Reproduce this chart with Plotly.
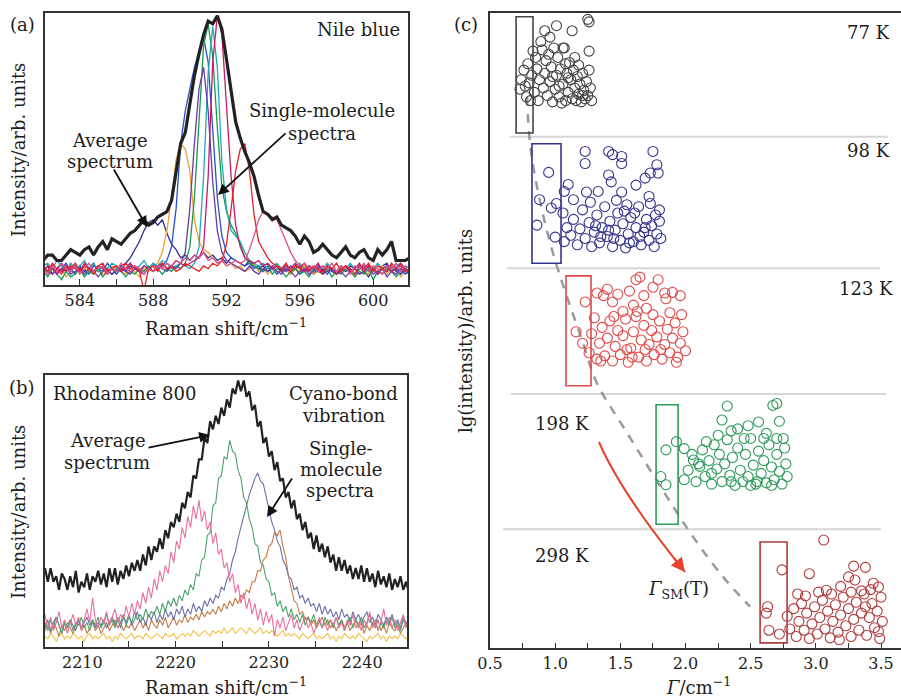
import plotly.graph_objects as go

# ------------------------------------------------------------------ data
# (a) Nile blue, 0.25 cm^-1 sampling from 582 cm^-1, intensity in arb. units (0-100)
A_SHIFT_START, A_SHIFT_STEP = 582.0, 0.25
A_AVERAGE = [9, 11, 11, 9, 9, 11, 13, 12, 11, 13, 14, 11, 14, 16, 13, 17, 16, 15, 17, 19,
             20, 22, 24, 22, 23, 25, 26, 27, 31, 42, 52, 56, 66, 77, 85, 92, 97, 96, 99, 94,
             83, 72, 60, 54, 49, 45, 40, 33, 27, 26, 24, 25, 22, 21, 20, 18, 15, 18, 16, 12,
             13, 15, 13, 11, 10, 12, 14, 11, 10, 12, 13, 10, 9, 13, 11, 13, 16, 9, 9, 9, 10]
A_NAVY = [5, 7, 4, 6, 8, 5, 6, 4, 7, 5, 6, 8, 5, 7, 4, 6, 5, 7,
          8, 10, 13, 16, 20, 23, 24, 22, 24, 19, 15, 13, 10, 11, 9, 11, 10, 12, 10, 11, 9, 10,
          8, 10, 9, 8, 7, 9, 7, 6, 7, 5, 6, 7, 5, 6, 4, 6, 7, 5, 6, 4,
          6, 5, 7, 5, 4, 6, 5, 7, 6, 4, 5, 3, 6, 5, 7, 8, 5, 6, 4, 6, 5]
A_ORANGE = [6, 4, 7, 5, 6, 3, 5, 7, 4, 6, 5, 7, 6, 4, 5, 7, 6, 5, 4, 6, 5, 3, 6, 5, 7, 8,
            12, 20, 32, 46, 52, 50, 42, 24, 16, 13, 12, 10, 8,
            9, 7, 8, 6, 7, 5, 6, 8, 5, 6, 4, 6, 7, 5, 6, 4, 6, 5, 7, 6, 4, 5, 7, 5, 6, 4,
            5, 7, 5, 3, 6, 5, 4, 6, 5, 7, 4, 6, 5, 3, 5, 6]
A_BLUE = [6, 5, 7, 4, 6, 8, 5, 7, 6, 5, 4, 7, 6, 5, 8, 6, 4, 6, 5, 7, 6, 5, 7, 6, 8, 6, 7, 9,
          14, 28, 52, 64, 72, 80, 86, 91, 82, 58, 32, 18, 12,
          10, 9, 8, 7, 8, 6, 7, 5, 7, 6, 4, 6, 5, 7, 6, 4, 6, 5, 7, 5, 6, 4, 6, 5, 7, 5,
          6, 4, 6, 7, 5, 6, 4, 6, 5, 7, 5, 6, 4, 5]
A_GREEN = [5, 3, 6, 4, 2, 5, 3, 4, 6, 3, 5, 4, 6, 3, 5, 4, 6, 5, 3, 5, 4, 6, 5, 7, 5, 6, 4, 6, 5, 7, 6,
           8, 14, 32, 62, 88, 96, 84, 58, 36, 27, 22, 19, 15, 10,
           8, 7, 6, 5, 7, 4, 6, 5, 3, 5, 6, 4, 5, 3, 6, 5, 4, 6, 3, 5, 4, 6, 5, 3, 5, 4,
           6, 2, 5, 4, 6, 5, 3, 5, 6, 4]
A_TEAL = [7, 8, 6, 9, 7, 5, 8, 6, 7, 9, 6, 8, 5, 7, 6, 8, 7, 5, 6, 8, 6, 7, 9, 6, 8, 7, 9, 8, 6, 7,
          8, 7, 6, 8,
          14, 40, 78, 95, 80, 45, 28, 20, 18, 16, 12,
          9, 8, 7, 8, 6, 7, 8, 6, 7, 5, 7, 8, 6, 7, 5, 7, 6, 8, 6, 5, 7, 6, 8, 6, 7, 5,
          7, 6, 8, 6, 7, 5, 7, 8, 6, 7]
A_PURPLE = [6, 5, 4, 6, 5, 7, 4, 5, 6, 4, 6, 5, 3, 5, 6, 4, 5, 7, 5, 4, 6, 5, 4, 6, 5, 7, 6, 5, 7, 6, 8,
            12, 28, 52, 72, 80, 64, 38, 20, 12, 9, 8, 7, 6, 5,
            7, 5, 4, 6, 5, 7, 5, 4, 6, 5, 3, 5, 6, 4, 5, 7, 4, 5, 6, 4, 5, 3, 5, 6, 4, 5,
            7, 4, 5, 6, 3, 5, 4, 6, 5, 4]
A_MAGENTA = [5, 7, 6, 4, 6, 5, 7, 6, 5, 8, 6, 5, 7, 6, 4, 6, 7, 5, 6, 8, 6, 5, 7, 6, 5, 7, 8, 6, 7, 9,
             8, 7, 8, 9, 10,
             14, 40, 82, 99, 92, 66, 40, 22, 14, 10,
             9, 8, 9, 7, 8, 6, 7, 5, 7, 6, 8, 6, 5, 7, 6, 8, 5, 7, 6, 4, 6, 7, 5, 6, 8, 5,
             7, 6, 4, 6, 7, 5, 6, 8, 6, 5]
A_RED = [7, 5, 8, 6, 4, 7, 6, 8, 5, 7, 6, 4, 7, 8, 5, 6, 7, 5, 8, 6, 7, 5, -2, 6, 7, 5, 8, 6, 7, 5,
         6, 8, 7, 6, 5, 7, 6, 8, 7,
         9, 15, 28, 42, 50, 52, 42, 26, 16, 13, 10, 8, 7,
         6, 8, 5, 7, 6, 8, 5, 7, 6, 4, 7, 6, 8, 5, 7, 6, 4, 7, 6, 8, 5, 7, 6, 5, 8, 6, 7, 5, 6]
A_PINK = [6, 4, 7, 5, 8, 6, 5, 7, 4, 6, 8, 5, 6, 7, 4, 6, 5, 8, 6, 5, 7, 6, 4, 6, 5, 7, 6, 8, 7, 9,
          8, 10, 9, 11, 10, 12, 9, 10, 8, 9, 7, 8, 9, 8,
          9, 13, 18, 24, 27, 26, 25, 24, 20, 16, 12, 9, 7,
          8, 6, 7, 5, 7, 6, 8, 5, 7, 6, 4, 7, 6, 8, 5, 7, 6, 4, 7, 6, 8, 5, 7, 6]

# (b) Rhodamine 800, 0.3 cm^-1 sampling from 2206 cm^-1
B_SHIFT_START, B_SHIFT_STEP = 2206.0, 0.3
B_AVERAGE = [29, 24, 29, 24, 26, 21, 27, 25, 21, 26, 22, 28, 20, 24, 22, 27, 21, 26, 24, 28,
             23, 27, 22, 29, 24, 29, 23, 28, 25, 30, 26, 31, 28, 32, 28, 34, 30, 37, 32, 37,
             35, 40, 36, 43, 40, 46, 44, 49, 46, 53, 51, 57, 55, 63, 62, 69, 69, 77, 75, 83,
             80, 85, 82, 88, 85, 91, 88, 95, 93, 98, 94, 98, 92, 94, 87, 89, 81, 83, 75, 77,
             70, 72, 65, 68, 61, 62, 55, 57, 51, 54, 47, 49, 43, 46, 40, 42, 36, 41, 35, 38,
             33, 37, 31, 34, 28, 33, 28, 32, 27, 30, 25, 29, 25, 30, 24, 29, 24, 27, 22, 28,
             23, 26, 22, 27, 21, 25, 22, 26, 21, 24, 20]
B_PINK = [12, 7, 11, 6, 9, 13, 7, 10, 5, 9, 12, 8, 11, 7, 10, 14, 9, 18, 10, 7,
          11, 9, 13, 8, 11, 14, 9, 12, 10, 15, 11, 16, 12, 17, 14, 20, 16, 22, 18, 25,
          21, 28, 24, 30, 27, 35, 31, 39, 36, 44, 40, 48, 44, 52, 47, 54, 46, 50, 43, 46,
          38, 42, 34, 36, 29, 31, 24, 27, 20, 23, 16, 20, 14, 18, 12, 16, 10, 14, 8, 13,
          9, 12, 4, 10, 7, 11, 6, 9, 12, 7, 10, 6, 9, 11, 7, 9, 5, 8, 11, 7,
          9, 6, 10, 8, 11, 7, 9, 6, 10, 8, 12, 7, 9, 6, 10, 8, 13, 7, 10, 6,
          9, 14, 8, 11, 7, 10, 6, 9, 12, 7, 9]
B_GREEN = [9, 6, 10, 7, 11, 8, 5, 9, 7, 10, 6, 9, 8, 11, 7, 9, 6, 10, 8, 11,
           7, 9, 12, 8, 10, 7, 11, 9, 12, 8, 11, 9, 13, 10, 12, 10, 14, 11, 13, 12,
           15, 12, 16, 13, 17, 15, 18, 15, 19, 17, 21, 19, 23, 21, 27, 26, 32, 33, 41, 42,
           52, 53, 62, 63, 70, 69, 76, 72, 71, 65, 62, 55, 53, 47, 44, 38, 37, 31, 30, 25,
           24, 19, 20, 15, 17, 13, 15, 11, 14, 10, 12, 9, 12, 8, 11, 9, 12, 8, 10, 7,
           11, 8, 10, 7, 11, 8, 10, 6, 9, 11, 7, 10, 8, 11, 7, 9, 12, 8, 10, 6,
           9, 7, 10, 8, 11, 7, 9, 6, 10, 8, 7]
B_SLATE = [7, 10, 6, 9, 11, 8, 5, 9, 7, 10, 8, 6, 10, 7, 9, 11, 8, 10, 7, 9,
           8, 10, 7, 9, 11, 8, 10, 7, 11, 9, 12, 8, 10, 13, 9, 11, 8, 12, 10, 13,
           9, 12, 10, 14, 11, 13, 10, 14, 12, 15, 11, 14, 12, 16, 13, 15, 13, 17, 15, 18,
           16, 19, 18, 22, 21, 25, 27, 32, 35, 40, 44, 49, 52, 56, 59, 62, 64, 61, 60, 55,
           50, 46, 43, 39, 37, 32, 30, 26, 25, 21, 22, 18, 19, 16, 18, 15, 16, 13, 16, 12,
           15, 12, 14, 11, 13, 10, 14, 11, 12, 9, 13, 10, 12, 9, 11, 13, 9, 11, 8, 12,
           10, 8, 11, 9, 12, 8, 10, 7, 11, 9, 8]
B_BROWN = [6, 8, 5, 9, 7, 4, 8, 6, 9, 7, 5, 8, 10, 6, 8, 5, 7, 9, 6, 8,
           5, 7, 9, 6, 8, 10, 7, 9, 6, 8, 7, 9, 6, 8, 10, 7, 9, 6, 10, 8,
           7, 10, 8, 11, 7, 9, 11, 8, 10, 9, 12, 9, 11, 10, 12, 10, 13, 11, 13, 12,
           14, 12, 15, 13, 16, 14, 17, 15, 18, 16, 19, 18, 21, 20, 24, 24, 28, 28, 32, 33,
           37, 38, 42, 41, 43, 37, 33, 26, 22, 17, 16, 12, 13, 10, 11, 8, 10, 7, 9, 11,
           8, 10, 7, 9, 6, 8, 10, 7, 9, 6, 8, 10, 7, 9, 5, 8, 6, 9, 7, 10,
           6, 8, 5, 9, 7, 6, 8, 5, 7, 9, 6]
B_YELLOW = [4, 3, 5, 4, 2, 4, 5, 3, 4, 3, 5, 4, 3, 4, 2, 4, 5, 3, 4, 3,
            4, 5, 3, 4, 2, 4, 3, 5, 4, 3, 4, 5, 3, 4, 4, 3, 5, 4, 3, 4,
            5, 4, 3, 5, 4, 4, 5, 3, 4, 5, 4, 5, 4, 6, 5, 4, 5, 6, 5, 4,
            6, 5, 6, 5, 7, 5, 6, 7, 5, 6, 7, 6, 5, 7, 6, 5, 6, 7, 5, 6,
            5, 6, 5, 4, 5, 6, 4, 5, 4, 5, 4, 3, 5, 4, 3, 4, 5, 3, 4, 3,
            4, 5, 3, 4, 2, 4, 3, 5, 4, 3, 4, 3, 5, 4, 3, 2, 4, 3, 4, 5,
            3, 4, 2, 4, 3, 4, 3, 5, 4, 3, 4]

# (c) single-molecule linewidth (Gamma, cm^-1) vs lg(intensity) (arb. units, 0-10 scale)
C_77K = [(0.74, 8.95), (0.76, 9.10), (0.73, 8.80), (0.78, 8.68), (0.80, 8.90), (0.79, 9.20), (0.82, 9.02),
         (0.84, 8.75), (0.85, 9.30), (0.87, 8.62), (0.88, 8.95), (0.86, 9.12), (0.90, 9.42), (0.91, 8.82),
         (0.92, 9.05), (0.93, 9.25), (0.94, 8.70), (0.96, 8.92), (0.97, 9.15), (0.98, 8.60), (0.99, 9.45),
         (1.00, 8.80), (1.01, 9.02), (1.02, 9.30), (1.03, 8.68), (1.04, 9.12), (1.06, 8.88), (1.07, 9.45),
         (1.08, 8.62), (1.09, 9.05), (1.10, 8.75), (1.11, 9.22), (1.12, 8.95), (1.13, 8.65), (1.14, 9.10),
         (1.15, 8.82), (1.16, 8.62), (1.17, 9.00), (1.18, 8.72), (1.19, 8.88), (1.20, 8.60), (1.21, 9.05),
         (1.22, 8.78), (1.23, 8.65), (1.24, 8.92), (1.25, 8.70), (1.26, 9.10), (1.27, 8.82), (1.28, 8.62),
         (1.18, 9.18), (1.05, 8.58), (0.95, 9.35), (0.89, 9.55), (0.83, 9.40), (0.92, 9.72), (0.96, 9.62),
         (1.01, 9.80), (1.13, 9.72), (1.25, 9.90), (1.26, 9.86), (1.26, 9.40), (1.06, 9.45), (0.77, 8.85),
         (0.81, 8.62), (1.10, 8.98), (1.15, 9.30), (1.21, 8.70), (1.03, 8.85), (0.98, 9.00), (1.08, 9.20)]
C_98K = [(0.95, 7.49), (0.88, 7.06), (0.97, 6.93), (1.01, 7.00), (0.86, 6.66), (1.00, 6.47), (1.23, 7.82),
         (1.23, 7.63), (1.41, 7.82), (1.44, 7.77), (1.51, 7.74), (1.51, 7.63), (1.75, 7.82), (1.78, 7.61),
         (1.79, 7.48), (1.73, 7.48), (1.69, 7.40), (1.62, 7.29), (1.41, 7.45), (1.43, 7.34), (1.51, 7.18),
         (1.33, 7.19), (1.24, 7.18), (1.10, 7.30), (1.07, 7.19), (1.14, 7.06), (1.72, 7.11), (1.73, 7.00),
         (1.80, 6.90), (1.06, 6.85), (1.09, 6.62), (1.07, 6.40), (1.12, 6.50), (1.14, 6.75), (1.17, 6.35),
         (1.19, 6.60), (1.21, 6.90), (1.23, 6.45), (1.26, 6.70), (1.28, 6.32), (1.30, 6.55), (1.32, 6.82),
         (1.34, 6.38), (1.36, 6.62), (1.38, 6.95), (1.40, 6.48), (1.42, 6.72), (1.44, 6.32), (1.46, 6.58),
         (1.48, 6.85), (1.50, 6.42), (1.52, 6.68), (1.54, 6.30), (1.56, 6.52), (1.58, 6.78), (1.60, 6.40),
         (1.62, 6.62), (1.64, 6.95), (1.66, 6.35), (1.68, 6.55), (1.70, 6.75), (1.72, 6.42), (1.74, 6.65),
         (1.76, 6.32), (1.78, 6.52), (1.80, 6.72), (1.81, 6.45), (1.47, 7.05), (1.55, 6.98), (1.27, 7.02),
         (1.35, 6.48), (1.45, 6.45), (1.57, 6.38), (1.61, 6.85), (1.69, 6.62), (1.77, 6.82), (1.31, 6.65),
         (1.41, 6.58), (1.53, 6.88), (1.65, 6.48)]
C_123K = [(1.65, 5.84), (1.62, 5.80), (1.79, 5.80), (1.84, 5.59), (1.85, 5.50), (1.32, 5.59), (1.37, 5.55),
          (1.48, 5.57), (1.44, 5.45), (1.57, 5.62), (1.68, 5.55), (1.23, 5.45), (1.16, 4.98), (1.21, 4.80),
          (1.40, 5.65), (1.75, 5.68), (1.70, 5.35), (1.60, 5.40), (1.52, 5.30), (1.90, 5.60), (1.96, 5.55),
          (1.26, 4.65), (1.28, 4.95), (1.30, 5.20), (1.32, 4.55), (1.34, 4.80), (1.36, 5.05), (1.38, 4.60),
          (1.40, 4.88), (1.42, 5.15), (1.44, 4.52), (1.46, 4.75), (1.48, 5.00), (1.50, 4.62), (1.52, 4.92),
          (1.54, 5.18), (1.56, 4.50), (1.58, 4.72), (1.60, 4.98), (1.62, 5.22), (1.64, 4.58), (1.66, 4.85),
          (1.68, 5.08), (1.70, 4.52), (1.72, 4.78), (1.74, 5.00), (1.76, 4.62), (1.78, 4.90), (1.80, 5.15),
          (1.82, 4.55), (1.84, 4.78), (1.86, 5.02), (1.88, 4.65), (1.90, 4.88), (1.92, 5.12), (1.94, 4.58),
          (1.96, 4.80), (1.98, 4.98), (2.00, 4.68), (1.63, 5.30), (1.75, 5.25), (1.88, 5.28), (1.45, 5.22),
          (1.55, 4.70), (1.69, 4.70), (1.81, 4.70), (1.97, 5.25), (1.35, 4.52), (1.93, 4.50), (1.59, 4.58)]
C_198K = [(2.32, 3.81), (2.67, 3.82), (2.70, 3.85), (2.28, 3.59), (2.56, 3.56), (2.72, 3.57), (2.48, 3.50),
          (1.85, 3.12), (1.93, 3.25), (1.81, 2.70), (1.85, 2.57), (1.99, 2.65), (1.99, 3.14), (2.06, 2.96),
          (2.11, 2.86), (2.40, 3.45), (2.35, 3.42), (2.62, 3.38), (2.75, 3.30), (2.02, 2.80), (2.05, 3.05),
          (2.08, 2.62), (2.10, 2.90), (2.13, 3.12), (2.15, 2.70), (2.18, 2.95), (2.20, 2.58), (2.22, 3.20),
          (2.24, 2.82), (2.26, 3.05), (2.28, 2.62), (2.30, 2.90), (2.32, 3.28), (2.34, 2.72), (2.36, 3.00),
          (2.38, 2.56), (2.40, 3.15), (2.42, 2.80), (2.44, 2.62), (2.46, 3.05), (2.48, 2.70), (2.50, 3.30),
          (2.52, 2.88), (2.54, 2.58), (2.56, 3.10), (2.58, 2.75), (2.60, 2.95), (2.62, 2.60), (2.64, 3.20),
          (2.66, 2.85), (2.68, 2.65), (2.70, 3.05), (2.72, 2.78), (2.74, 2.58), (2.76, 3.15), (2.77, 2.90),
          (2.78, 2.70), (2.25, 3.35), (2.45, 3.30), (2.60, 3.30), (2.70, 3.30), (2.16, 3.25), (2.35, 2.62),
          (2.55, 2.62), (2.50, 2.56), (2.66, 2.56), (2.20, 2.75)]
C_298K = [(3.06, 1.70), (3.29, 1.29), (3.38, 1.27), (2.74, 1.23), (2.95, 1.17), (3.08, 0.91), (3.19, 0.97),
          (3.30, 1.07), (3.44, 1.02), (3.48, 0.96), (2.63, 0.65), (2.62, 0.55), (2.64, 0.28), (3.25, 1.12),
          (3.35, 0.90), (2.72, 0.22), (2.78, 0.50), (2.80, 0.30), (2.83, 0.62), (2.85, 0.18), (2.87, 0.42),
          (2.89, 0.70), (2.91, 0.28), (2.93, 0.55), (2.95, 0.15), (2.97, 0.38), (2.99, 0.65), (3.01, 0.22),
          (3.03, 0.48), (3.05, 0.75), (3.07, 0.30), (3.09, 0.58), (3.11, 0.16), (3.13, 0.42), (3.15, 0.68),
          (3.17, 0.25), (3.19, 0.52), (3.21, 0.80), (3.23, 0.35), (3.25, 0.62), (3.27, 0.18), (3.29, 0.45),
          (3.31, 0.72), (3.33, 0.28), (3.35, 0.55), (3.37, 0.85), (3.39, 0.20), (3.41, 0.48), (3.43, 0.70),
          (3.45, 0.32), (3.47, 0.58), (3.49, 0.15), (3.50, 0.80), (3.51, 0.42), (3.48, 0.26), (3.12, 0.85),
          (2.92, 0.82), (3.02, 0.88), (3.42, 0.92), (3.27, 0.88), (2.86, 0.85), (3.18, 0.13), (3.38, 0.65)]
TEMPS = ["77 K", "98 K", "123 K", "198 K", "298 K"]
# Gamma_SM(T) windows (Gamma range, lg range)
BOX_G = [(0.70, 0.83), (0.822, 1.045), (1.083, 1.275), (1.774, 1.943), (2.572, 2.779)]
BOX_LG = [(8.11, 9.94), (6.06, 7.94), (4.13, 5.86), (1.95, 3.83), (0.08, 1.67)]
SEP_G = [(0.653, 3.554), (0.63, 3.49), (0.66, 3.54), (0.60, 3.50)]
SEP_LG = [8.05, 5.98, 4.0, 1.87]
FIT_G = [0.784, 0.807, 0.861, 0.983, 1.214, 1.321, 1.551, 1.858, 2.058, 2.288, 2.495]
FIT_LG = [8.68, 7.95, 7.26, 6.22, 4.80, 4.17, 3.39, 2.38, 1.75, 1.12, 0.65]

# ------------------------------------------------------------------ figure
W, H = 901, 699
FONT = "DejaVu Serif"
INK = "#1c1c1c"


def fx(p):
    return p / W


def fy(p):
    return 1 - p / H


def grid(start, step, n):
    return [round(start + step * i, 4) for i in range(n)]


fig = go.Figure()


def line(xs, ys, color, width, xa, ya):
    fig.add_trace(go.Scatter(x=xs, y=ys, mode="lines", line=dict(color=color, width=width),
                             xaxis=xa, yaxis=ya, showlegend=False, hoverinfo="skip"))


# panel (a)
for ys, col in [(A_NAVY, "#2b2f8f"), (A_ORANGE, "#f0a030"), (A_BLUE, "#2850c8"),
                (A_GREEN, "#139a50"), (A_TEAL, "#1faab8"), (A_PURPLE, "#6a3aa8"),
                (A_MAGENTA, "#c8186a"), (A_RED, "#e82020"), (A_PINK, "#e0508a")]:
    line(grid(A_SHIFT_START, A_SHIFT_STEP, len(ys)), ys, col, 1.3, "x", "y")
line(grid(A_SHIFT_START, A_SHIFT_STEP, len(A_AVERAGE)), A_AVERAGE, "#222222", 3.2, "x", "y")

# panel (b)
for ys, col in [(B_YELLOW, "#f2c04a"), (B_BROWN, "#c47a45"), (B_SLATE, "#6b72a8"),
                (B_GREEN, "#4aa36a"), (B_PINK, "#e8709a")]:
    line(grid(B_SHIFT_START, B_SHIFT_STEP, len(ys)), ys, col, 1.1, "x2", "y2")
line(grid(B_SHIFT_START, B_SHIFT_STEP, len(B_AVERAGE)), B_AVERAGE, "#222222", 2.2, "x2", "y2")

# panel (c)
fig.add_trace(go.Scatter(x=FIT_G, y=FIT_LG, mode="lines", line=dict(color="#9a9a9a", width=2.5, dash="9px,8px", shape="spline"),
                         xaxis="x3", yaxis="y3", showlegend=False, hoverinfo="skip"))
C_COLORS = ["#444444", "#33358c", "#e04848", "#2e9a5a", "#b03a3a"]
for pts, col in zip([C_77K, C_98K, C_123K, C_198K, C_298K], C_COLORS):
    fig.add_trace(go.Scatter(x=[p[0] for p in pts], y=[p[1] for p in pts], mode="markers",
                             marker=dict(symbol="circle-open", size=10, color=col, line=dict(width=1.1)),
                             xaxis="x3", yaxis="y3", showlegend=False, hoverinfo="skip"))

shapes = []
for (g0, g1), lg in zip(SEP_G, SEP_LG):
    shapes.append(dict(type="line", xref="x3", yref="y3", x0=g0, x1=g1, y0=lg, y1=lg,
                       line=dict(color="#d6d6d6", width=2), layer="below"))
for (g0, g1), (l0, l1), col in zip(BOX_G, BOX_LG, C_COLORS):
    shapes.append(dict(type="rect", xref="x3", yref="y3", x0=g0, x1=g1, y0=l0, y1=l1,
                       line=dict(color=col, width=1.6), layer="above"))
shapes.append(dict(type="path", xref="x3", yref="y3", path="M 1.336,3.244 Q 1.505,2.441 1.996,1.197",
                   line=dict(color="#e8402a", width=2)))

axis = dict(showline=True, linecolor="#333333", linewidth=1.5, showgrid=False, zeroline=False,
            automargin=False, ticks="inside", tickcolor="#333333", ticklen=6, tickwidth=1.2,
            tickfont=dict(family=FONT, size=16, color=INK))
noax = dict(axis, ticks="", showticklabels=False)

fig.update_layout(
    width=W, height=H, margin=dict(l=0, r=0, t=0, b=0),
    paper_bgcolor="white", plot_bgcolor="white", showlegend=False,
    shapes=shapes,
    xaxis=dict(axis, domain=[fx(45), fx(408)], range=[582.1, 601.9], anchor="y", mirror=True,
               tickvals=list(range(584, 601, 2)),
               ticktext=["584", "", "588", "", "592", "", "596", "", "600"]),
    yaxis=dict(noax, domain=[fy(285), fy(13)], range=[0, 100], anchor="x", mirror=True),
    xaxis2=dict(axis, domain=[fx(45), fx(407)], range=[2206.0, 2244.8], anchor="y2", mirror=True,
                tickvals=list(range(2210, 2245, 5)),
                ticktext=["2210", "", "2220", "", "2230", "", "2240"]),
    yaxis2=dict(noax, domain=[fy(647), fy(375)], range=[0, 100], anchor="x2", mirror=True),
    xaxis3=dict(axis, domain=[fx(490), 1.0], range=[0.5, 3.653], anchor="y3", mirror=True,
                ticklen=5, tickvals=[0.5 + 0.25 * i for i in range(13)],
                ticktext=["0.5", "", "1.0", "", "1.5", "", "2.0", "", "2.5", "", "3.0", "", "3.5"]),
    yaxis3=dict(noax, domain=[fy(648), fy(13)], range=[0, 10], anchor="x3", mirror=False),
)


def note(text, x, y, size=18, angle=0):
    fig.add_annotation(text=text, x=fx(x), y=fy(y), xref="paper", yref="paper", showarrow=False,
                       font=dict(family=FONT, size=size, color=INK), xanchor="center", yanchor="middle",
                       textangle=angle)


def arrow(tip, tail, color="#111111", width=1.8, size=1.2):
    fig.add_annotation(x=fx(tip[0]), y=fy(tip[1]), xref="paper", yref="paper", text="", showarrow=True,
                       ax=tail[0] - tip[0], ay=tail[1] - tip[1], arrowhead=2, arrowsize=size,
                       arrowwidth=width, arrowcolor=color, standoff=0)


# panel labels and titles
note("(a)", 22, 24)
note("(b)", 22, 387)
note("(c)", 466, 24)
note("Intensity/arb. units", 18, 150, angle=-90)
note("Raman shift/cm<sup>−1</sup>", 226, 327)
note("Intensity/arb. units", 18, 512, angle=-90)
note("Raman shift/cm<sup>−1</sup>", 226, 686)
note("lg(intensity)/arb. units", 466, 331, angle=-90)
note("<i>Γ</i>/cm<sup>−1</sup>", 698, 686)

# panel (a) texts
note("Nile blue", 358, 30)
note("Single-molecule", 322, 111)
note("spectra", 322, 133)
note("Average", 110, 140)
note("spectrum", 110, 161)
arrow((147, 227), (113, 168))
arrow((218, 195), (287, 132))

# panel (b) texts
note("Rhodamine 800", 125, 393)
note("Cyano-bond", 343, 393)
note("vibration", 344, 415)
note("Average", 108, 440)
note("spectrum", 107, 462)
note("Single-", 341, 448)
note("molecule", 341, 469)
note("spectra", 340, 490)
arrow((210, 435), (147, 448))
arrow((267, 517), (293, 477))

# panel (c) texts
for t, (x, y) in zip(TEMPS, [(868, 33), (868, 151), (866, 288), (562, 423), (562, 555)]):
    note(t, x, y)
note("<i>Γ</i><sub>SM</sub>(T)", 678, 590)
fig.add_annotation(x=1.996, y=1.197, xref="x3", yref="y3", text="", showarrow=True, ax=-12, ay=-15,
                   arrowhead=2, arrowsize=1.4, arrowwidth=2, arrowcolor="#e8402a", standoff=0)

fig.write_html("out.html")
